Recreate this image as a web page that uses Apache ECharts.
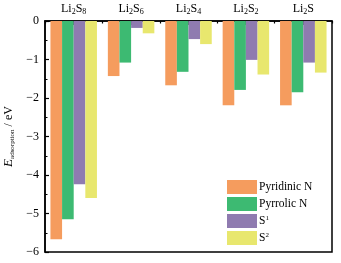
<!DOCTYPE html>
<html>
<head>
<meta charset="utf-8">
<script src="https://cdn.jsdelivr.net/npm/echarts@6/dist/echarts.min.js"></script>
<style>
  html, body { margin: 0; padding: 0; background: #fff; }
  #chart { width: 341px; height: 263px; }
</style>
</head>
<body>
<div id="chart"></div>
<script>
// categories shown on the top axis (rich text keys for subscripts)
const categories = ['Li2S8', 'Li2S6', 'Li2S4', 'Li2S2', 'Li2S'];
const categoryLabels = [
  'Li{sub|2}S{sub|8}', 'Li{sub|2}S{sub|6}', 'Li{sub|2}S{sub|4}', 'Li{sub|2}S{sub|2}', 'Li{sub|2}S'
];
const seriesNames = ['Pyridinic N', 'Pyrrolic N', 'S1', 'S2'];
const legendLabels = ['Pyridinic N', 'Pyrrolic N', 'S{sup|1}', 'S{sup|2}'];
// adsorption energies (eV)
const pyridinicN = [-5.67, -1.43, -1.67, -2.19, -2.19];
const pyrrolicN = [-5.15, -1.08, -1.32, -1.79, -1.85];
const s1 = [-4.24, -0.18, -0.47, -1.01, -1.08];
const s2 = [-4.60, -0.32, -0.60, -1.39, -1.34];

const colors = ['#F59C5E', '#3DBA72', '#8F7BB0', '#E8E76E'];
const values = [pyridinicN, pyrrolicN, s1, s2];
const font = 'Liberation Serif';

let myChart = echarts.init(document.getElementById('chart'));
myChart.setOption({
  animation: false,
  textStyle: { fontFamily: font },
  grid: {
    left: 45, right: 9, top: 21, bottom: 11,
    outerBoundsMode: 'none',
    containLabel: false,
    show: true, borderColor: '#000', borderWidth: 1.5
  },
  legend: {
    orient: 'vertical',
    left: 222, top: 175,
    itemWidth: 30, itemHeight: 14, itemGap: 3,
    icon: 'rect',
    data: seriesNames,
    formatter: function (name) {
      return legendLabels[seriesNames.indexOf(name)];
    },
    textStyle: {
      fontFamily: font, fontSize: 11.5, color: '#000', padding: [0, 0, 0, -3],
      rich: {
        sup: { fontSize: 7, verticalAlign: 'top', padding: [0, 0, 5, 0], fontFamily: font }
      }
    }
  },
  xAxis: [
    {
      type: 'category',
      position: 'top',
      data: categories,
      axisLine: { show: true, lineStyle: { color: '#000', width: 1.5 } },
      axisTick: { show: true, inside: true, alignWithLabel: true, length: 4, lineStyle: { color: '#000', width: 1.5 } },
      axisLabel: {
        interval: 0,
        color: '#000', fontSize: 12, fontFamily: font, margin: 5,
        formatter: function (v, i) { return categoryLabels[i]; },
        rich: {
          sub: { fontSize: 8, fontFamily: font, verticalAlign: 'bottom', padding: [6, 0, 0, 0] }
        }
      }
    },
    {
      type: 'category',
      position: 'top',
      data: categories,
      axisLine: { show: false },
      axisTick: { show: true, inside: true, interval: 0, length: 2.5, lineStyle: { color: '#000', width: 1.2 } },
      axisLabel: { show: false }
    }
  ],
  yAxis: {
    type: 'value',
    min: -6, max: 0, interval: 1,
    name: '{e|E}{sub|adsorption}{n| / eV}',
    nameLocation: 'middle',
    nameGap: 22,
    nameRotate: 90,
    nameTextStyle: {
      color: '#000',
      rich: {
        e: { fontSize: 13, fontStyle: 'italic', fontFamily: font },
        sub: { fontSize: 7, fontFamily: font, verticalAlign: 'bottom', padding: [6, 0, 0, 0] },
        n: { fontSize: 12, fontFamily: font }
      }
    },
    axisLine: { show: true, lineStyle: { color: '#000', width: 1.5 } },
    axisTick: { show: true, inside: true, length: 4, lineStyle: { color: '#000', width: 1.2 } },
    minorTick: { show: true, splitNumber: 2, length: 2.5, lineStyle: { color: '#000', width: 1 } },
    splitLine: { show: false },
    axisLabel: {
      color: '#000', fontSize: 12, fontFamily: font, margin: 6,
      formatter: function (v) { return v < 0 ? '\u2212' + Math.abs(v) : String(v); }
    }
  },
  series: seriesNames.map(function (name, i) {
    return {
      name: name,
      type: 'bar',
      data: values[i],
      barGap: '0%',
      barCategoryGap: '19%',
      itemStyle: { color: colors[i] }
    };
  })
});
</script>
</body>
</html>
